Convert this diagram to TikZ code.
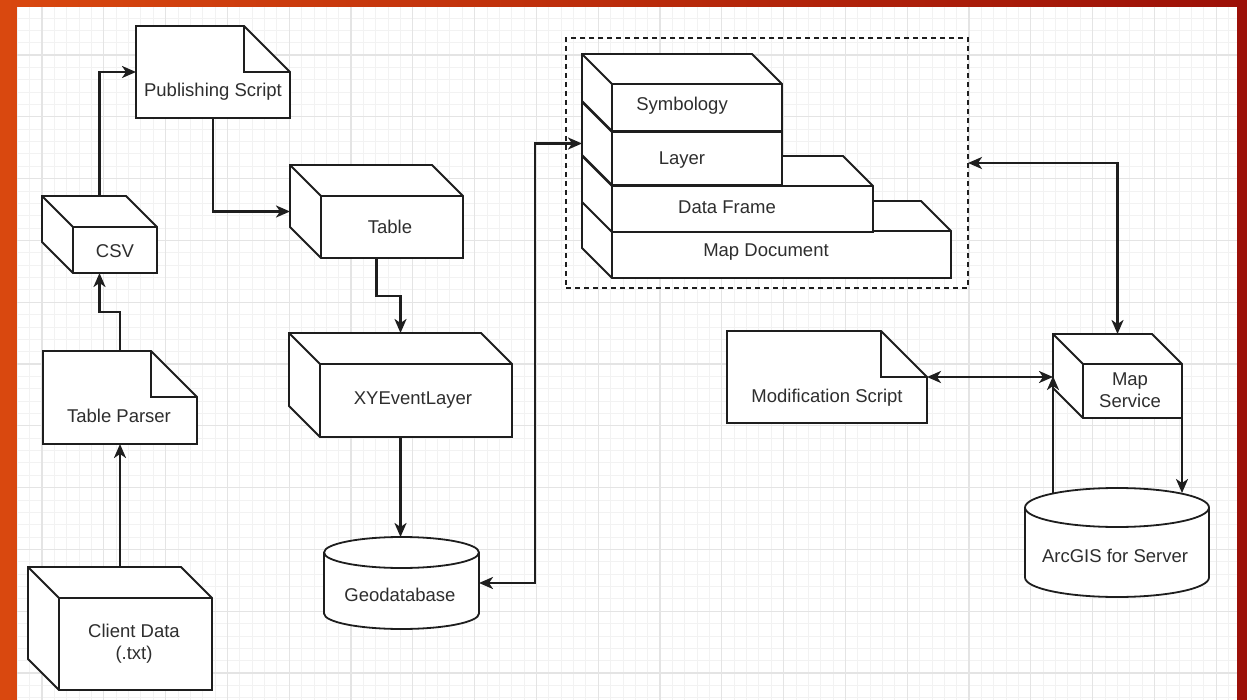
\documentclass[tikz,border=0pt]{standalone}
\usepackage{fontspec}
\setmainfont{Liberation Sans}
\usetikzlibrary{arrows.meta,calc}
\definecolor{lncol}{HTML}{1E1E1E}
\definecolor{txcol}{HTML}{2E2E2E}
\definecolor{gridmaj}{HTML}{E4E4E4}
\definecolor{gridmin}{HTML}{F2F2F2}
\definecolor{frameL}{HTML}{D9480F}
\definecolor{frameR}{HTML}{9C1008}
\tikzset{
  shp/.style={draw=lncol, line width=1.8pt, fill=white, line join=miter},
  innerln/.style={draw=lncol, line width=1.8pt},
  bbox/.style={draw=none, inner sep=0pt, outer sep=0pt, rectangle},
  lbl/.style={text=txcol, font=\fontsize{18.5}{22}\selectfont, inner sep=0pt, align=center},
  conn/.style={draw=lncol, line width=2.4pt, line cap=butt},
  tipA/.style={-{Stealth[length=14pt,width=12pt,inset=4pt]}},
  tipB/.style={{Stealth[length=14pt,width=12pt,inset=4pt]}-{Stealth[length=14pt,width=12pt,inset=4pt]}},
  grp/.style={draw=lncol, line width=1.4pt, dash pattern=on 5pt off 4pt, inner sep=0pt, outer sep=0pt, rectangle},
  gmin/.style={draw=gridmin, line width=0.8pt},
  gmaj/.style={draw=gridmaj, line width=1.1pt},
}
% cube: name, x0, y0, x1, y1, depth, tx, ty, text
\newcommand{\cubebox}[9]{%
  \node[bbox, minimum width={(#4-#2)*1pt}, minimum height={(#5-#3)*1pt}] (#1) at ({(#2+#4)/2},{(#3+#5)/2}) {};
  \path[shp] (#2,#3) -- ({#4-#6},#3) -- (#4,{#3+#6}) -- (#4,#5) -- ({#2+#6},#5) -- (#2,{#5-#6}) -- cycle;
  \draw[innerln] (#2,#3) -- ({#2+#6},{#3+#6}) -- (#4,{#3+#6}) ({#2+#6},{#3+#6}) -- ({#2+#6},#5);
  \node[lbl] (#1-t) at (#7,#8) {#9};
}
% note: name, x0, y0, x1, y1, fold, tx, ty, text
\newcommand{\notebox}[9]{%
  \node[bbox, minimum width={(#4-#2)*1pt}, minimum height={(#5-#3)*1pt}] (#1) at ({(#2+#4)/2},{(#3+#5)/2}) {};
  \path[shp] (#2,#3) -- ({#4-#6},#3) -- (#4,{#3+#6}) -- (#4,#5) -- (#2,#5) -- cycle;
  \draw[innerln] ({#4-#6},#3) -- ({#4-#6},{#3+#6}) -- (#4,{#3+#6});
  \node[lbl] (#1-t) at (#7,#8) {#9};
}
% cylinder: name, x0, y0, x1, y1, ry, tx, ty, text
\newcommand{\cylbox}[9]{%
  \node[bbox, minimum width={(#4-#2)*1pt}, minimum height={(#5-#3)*1pt}] (#1) at ({(#2+#4)/2},{(#3+#5)/2}) {};
  \pgfmathsetmacro\cylrx{(#4-#2)/2}%
  \path[shp] (#2,{#3+#6}) -- (#2,{#5-#6}) arc[start angle=180, end angle=360, x radius=\cylrx pt, y radius=#6pt]
     -- (#4,{#3+#6}) arc[start angle=0, end angle=180, x radius=\cylrx pt, y radius=#6pt] -- cycle;
  \draw[innerln] (#2,{#3+#6}) arc[start angle=180, end angle=360, x radius=\cylrx pt, y radius=#6pt];
  \node[lbl] (#1-t) at (#7,#8) {#9};
}
\begin{document}
\begin{tikzpicture}[x=1pt,y=-1pt]
\useasboundingbox (0,0) rectangle (1247,700);
% frame and background
\fill[left color=frameL, right color=frameR] (0,0) rectangle (1247,700);
\fill[white] (17,7) rectangle (1237,700);
\begin{scope}
  \clip (17,7) rectangle (1237,700);
  \foreach \i in {-2,...,97} {\draw[gmin] ({42+12.36*\i},7) -- ({42+12.36*\i},700);}
  \foreach \j in {-4,...,53} {\draw[gmin] (17,{55+12.36*\j}) -- (1237,{55+12.36*\j});}
  \foreach \i in {-1,...,20} {\draw[gmaj] ({42+61.8*\i},7) -- ({42+61.8*\i},700);}
  \foreach \j in {-1,...,11} {\draw[gmaj] (17,{55+61.8*\j}) -- (1237,{55+61.8*\j});}
\end{scope}

% left column
\cubebox{client}{28}{567}{212}{690}{31}{134}{644}{Client Data\\(.txt)}
\notebox{parser}{43}{351}{197}{444}{46}{119}{416}{Table Parser}
\cubebox{csv}{42}{196}{157}{273}{31}{115}{251}{CSV}
\notebox{pub}{136}{26}{290}{118}{46}{213}{92}{Publishing Script}

% middle column
\cubebox{table}{290}{165}{463}{258}{31}{390}{227}{Table}
\cubebox{xy}{289}{333}{512}{437}{31}{413}{400}{XYEventLayer}
\cylbox{geo}{324}{537}{479}{629}{15.5}{400}{595}{Geodatabase}

% map document group
\node[grp, minimum width=402pt, minimum height=250pt] (group) at (767,163) {};
\cubebox{mapdoc}{582}{201}{951}{278}{30}{766}{252}{Map Document}
\cubebox{dataframe}{582}{156}{873}{232}{30}{727}{207}{Data Frame}
\cubebox{layer}{582}{102}{782}{185}{30}{682}{160}{Layer}
\cubebox{symb}{582}{54}{782}{131}{30}{682}{106}{Symbology}

% right side
\notebox{mod}{727}{331}{927}{423}{46}{827}{398}{Modification Script}
\cubebox{mapsvc}{1053}{334}{1182}{418}{30}{1130}{390}{Map\\Service}
\cylbox{arcgis}{1025}{488}{1209}{597}{19.5}{1115}{556}{ArcGIS for Server}

% connectors
\draw[conn,tipA] (client.north) -- (parser.south);
\draw[conn,tipA] (parser.north) -- ++(0,-39) -| (csv.south);
\draw[conn,tipA] (csv.north) |- (pub.west);
\draw[conn,tipA] (pub.south) |- (table.west);
\draw[conn,tipA] (table.south) -- ++(0,38) -| (xy.north);
\draw[conn,tipA] (xy.south) -- (xy.south |- geo.north);
\draw[conn,tipB] (geo.east) -- ++(56,0) |- (layer.west);
\draw[conn,tipB] (group.east) -| (mapsvc.north);
\draw[conn,tipB] (mod.east) -- (mod.east -| mapsvc.west);
\draw[conn,tipA] ($(mapsvc.west |- arcgis.north)+(0,5)$) -- (mapsvc.west);
\draw[conn,tipA] (mapsvc.south east) -- ($(mapsvc.south east |- arcgis.north)+(0,5)$);
\end{tikzpicture}
\end{document}
